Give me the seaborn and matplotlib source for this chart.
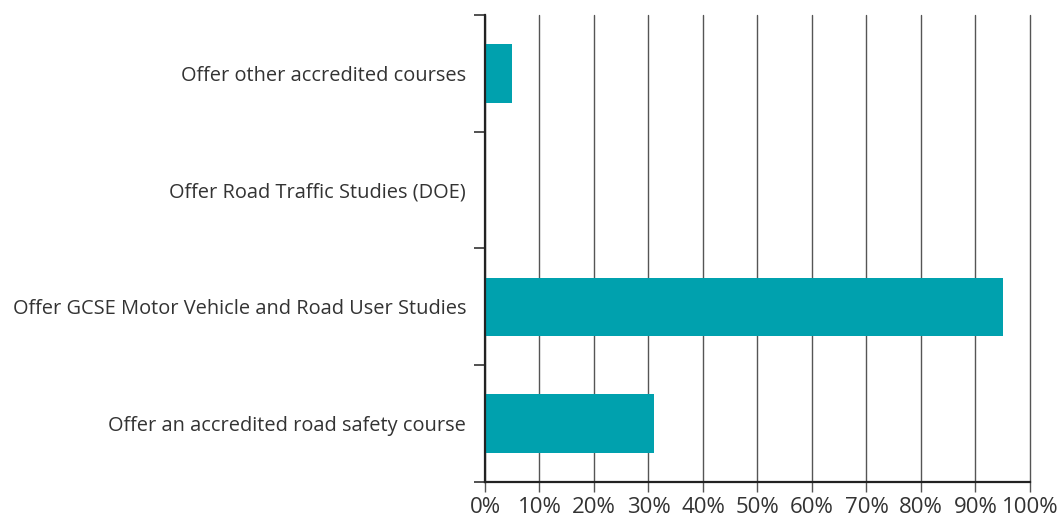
import numpy as np
import pandas as pd
import seaborn as sns
import matplotlib.pyplot as plt
from matplotlib.ticker import FixedLocator, PercentFormatter

# data (top to bottom as shown)
courses = [
    'Offer other accredited courses',
    'Offer Road Traffic Studies (DOE)',
    'Offer GCSE Motor Vehicle and Road User Studies',
    'Offer an accredited road safety course',
]
share = [5, 0, 95, 31]
x_ticks = list(range(0, 101, 10))

df = pd.DataFrame({'course': courses, 'share': share})

sns.set_style('white')
plt.rcParams['font.family'] = ['Open Sans', 'DejaVu Sans']

fig = plt.figure(figsize=(10.58, 5.2), dpi=100)
ax = fig.add_axes([0.4584, 0.0731, 0.5151, 0.8981])

sns.barplot(data=df, x='share', y='course', order=courses, orient='h',
            color='#00A1AE', saturation=1, width=0.5, linewidth=0,
            ax=ax, zorder=3)

ax.set_xlim(0, 100)
ax.set_ylim(len(courses) - 0.5, -0.5)
ax.xaxis.set_major_locator(FixedLocator(x_ticks))
ax.xaxis.set_major_formatter(PercentFormatter(decimals=0))
ax.grid(axis='x', color='#555555', linewidth=1.0, zorder=0)
ax.grid(axis='y', visible=False)
# keep the 100% line from being clipped at the axes edge
for gl in ax.get_xgridlines():
    gl.set_clip_on(False)

# y ticks sit between the categories
ax.yaxis.set_minor_locator(FixedLocator(np.arange(-0.5, len(courses), 1.0)))
ax.tick_params(axis='y', which='major', length=0, pad=13.5, labelsize=14.4,
               labelcolor='#333333')
ax.tick_params(axis='y', which='minor', length=8, width=1.2, color='#333333',
               left=True)
ax.tick_params(axis='x', length=7, width=1.0, color='#555555', labelsize=16,
               labelcolor='#333333', pad=4, bottom=True)

for side in ['top', 'right']:
    ax.spines[side].set_visible(False)
for side in ['left', 'bottom']:
    ax.spines[side].set_color('#222222')
    ax.spines[side].set_linewidth(1.6)
    ax.spines[side].set_zorder(4)

ax.set_xlabel('')
ax.set_ylabel('')

fig.savefig('out.png', dpi=100, facecolor='white')
